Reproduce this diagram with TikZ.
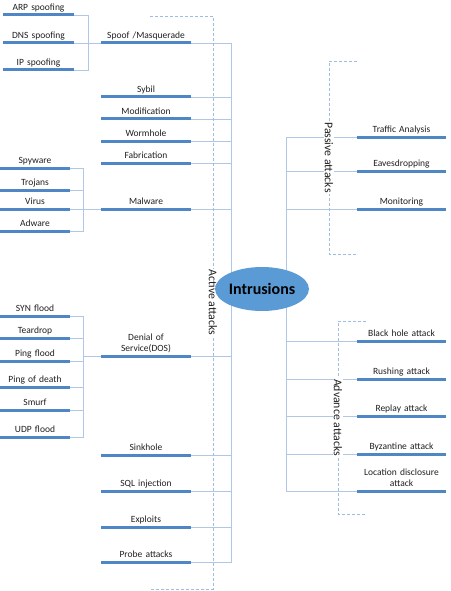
\documentclass[tikz,border=0pt]{standalone}
\usepackage{fontspec}
\setmainfont{Carlito}
\usetikzlibrary{shapes.geometric}
\definecolor{barc}{HTML}{4F86C6}
\definecolor{connc}{HTML}{B0C8E6}
\definecolor{dashc}{HTML}{9DBEE0}
\definecolor{ellc}{HTML}{5B9BD5}
\definecolor{txtc}{HTML}{1F1F1F}
\newcommand{\twolines}[2]{\begin{tabular}[b]{@{}c@{}}#1\\#2\end{tabular}}
\begin{document}
\begin{tikzpicture}[x=1pt,y=-1pt,
  item/.style={text width=#1, align=center, inner xsep=0pt, inner ysep=4.5pt, outer sep=0pt,
    text depth=0pt, anchor=south, text=txtc, font=\fontsize{9.5}{11.5}\selectfont},
  barline/.style={draw=barc, line width=3pt},
  conn/.style={draw=connc, line width=0.8pt},
  dashline/.style={draw=dashc, line width=0.8pt, dash pattern=on 3pt off 2pt},
  grouplbl/.style={rotate=-90, fill=white, inner xsep=1pt, inner ysep=0.5pt, text=txtc,
    font=\fontsize{11.8}{14}\selectfont}]
\useasboundingbox (0,0) rectangle (450,591);

% ---------- level-1 active attacks
\node[item=90] (spoof) at (146,43) {Spoof /Masquerade};
\node[item=90] (sybil) at (146,97) {Sybil};
\node[item=90] (modif) at (146,119) {Modification};
\node[item=90] (worm) at (146,141) {Wormhole};
\node[item=90] (fabr) at (146,163) {Fabrication};
\node[item=90] (malw) at (146,209) {Malware};
\node[item=90] (dos) at (146,356) {\twolines{Denial of}{Service(DOS)}};
\node[item=90] (sink) at (146,455) {Sinkhole};
\node[item=90] (sql) at (146,491) {SQL injection};
\node[item=90] (expl) at (146,527) {Exploits};
\node[item=90] (probe) at (146,562) {Probe attacks};

% ---------- spoof children
\node[item=71] (arp) at (38.5,15) {ARP spoofing};
\node[item=71] (dnss) at (38.5,43) {DNS spoofing};
\node[item=71] (ipsp) at (38.5,70) {IP spoofing};

% ---------- malware children
\node[item=70] (spy) at (35,168) {Spyware};
\node[item=70] (troj) at (35,190) {Trojans};
\node[item=70] (virus) at (35,209) {Virus};
\node[item=70] (adw) at (35,231) {Adware};

% ---------- DOS children
\node[item=70] (syn) at (35,316) {SYN flood};
\node[item=70] (tear) at (35,338) {Teardrop};
\node[item=70] (pflood) at (35,361) {Ping flood};
\node[item=70] (pod) at (35,387) {Ping of death};
\node[item=70] (smurf) at (35,410) {Smurf};
\node[item=70] (udp) at (35,437) {UDP flood};

% ---------- passive attacks
\node[item=89] (traffic) at (401.5,137) {Traffic Analysis};
\node[item=89] (eaves) at (401.5,171) {Eavesdropping};
\node[item=89] (monit) at (401.5,209) {Monitoring};

% ---------- advance attacks
\node[item=89] (black) at (401.5,341) {Black hole attack};
\node[item=89] (rush) at (401.5,379) {Rushing attack};
\node[item=89] (replay) at (401.5,416) {Replay attack};
\node[item=89] (byz) at (401.5,454) {Byzantine attack};
\node[item=89] (loc) at (401.5,491) {\twolines{Location disclosure}{attack}};

% ---------- underline bars
\foreach \n in {spoof,sybil,modif,worm,fabr,malw,dos,sink,sql,expl,probe,
  arp,dnss,ipsp,spy,troj,virus,adw,syn,tear,pflood,pod,smurf,udp,
  traffic,eaves,monit,black,rush,replay,byz,loc}
  \draw[barline] (\n.south west) -- (\n.south east);

% ---------- bus coordinates
\coordinate (abus) at (231,43);
\coordinate (pbus) at (286,137);

% ---------- active connectors
\draw[conn] (spoof.south east) -| (probe.south east -| abus) -- (probe.south east);
\foreach \n in {sybil,modif,worm,fabr,malw,dos,sink,sql,expl}
  \draw[conn] (\n.south east) -- (\n.south east -| abus);

% ---------- left brackets
\draw[conn] (arp.south east) -- ++(14,0) |- (ipsp.south east);
\draw[conn] (dnss.south east) -- (spoof.south west);
\draw[conn] (spy.south east) -- ++(13,0) |- (adw.south east);
\draw[conn] (troj.south east) -- ++(13,0);
\draw[conn] (virus.south east) -- (malw.south west);
\draw[conn] (syn.south east) -- ++(13,0) |- (udp.south east);
\foreach \n in {tear,pflood,pod,smurf}
  \draw[conn] (\n.south east) -- ++(13,0);
\draw[conn] (dos.south west) -- ++(-18,0);

% ---------- right connectors
\draw[conn] (traffic.south west) -| (loc.south west -| pbus) -- (loc.south west);
\foreach \n in {eaves,monit,black,rush,replay,byz}
  \draw[conn] (\n.south west) -- (\n.south west -| pbus);

% ---------- dashed group brackets
\coordinate (a1) at (150,16); \coordinate (a2) at (213,16);
\coordinate (a3) at (213,589); \coordinate (a4) at (150,589);
\draw[dashline] (a1) -- (a2) -- (a3) -- (a4);
\coordinate (p1) at (357,61); \coordinate (p2) at (329,61);
\coordinate (p3) at (329,254); \coordinate (p4) at (357,254);
\draw[dashline] (p1) -- (p2) -- (p3) -- (p4);
\coordinate (d1) at (366,321); \coordinate (d2) at (338,321);
\coordinate (d3) at (338,514); \coordinate (d4) at (366,514);
\draw[dashline] (d1) -- (d2) -- (d3) -- (d4);

\node[grouplbl] (actlbl) at (213,302.5) {Active attacks};
\node[grouplbl] (paslbl) at (329,157.5) {Passive attacks};
\node[grouplbl] (advlbl) at (338,417.5) {Advance attacks};

% ---------- central node
\node[ellipse, fill=ellc, minimum width=82pt, minimum height=44pt, inner sep=0pt,
  text=black, font=\bfseries\fontsize{16}{18}\selectfont] (intr) at (262,289) {Intrusions};
\end{tikzpicture}
\end{document}
